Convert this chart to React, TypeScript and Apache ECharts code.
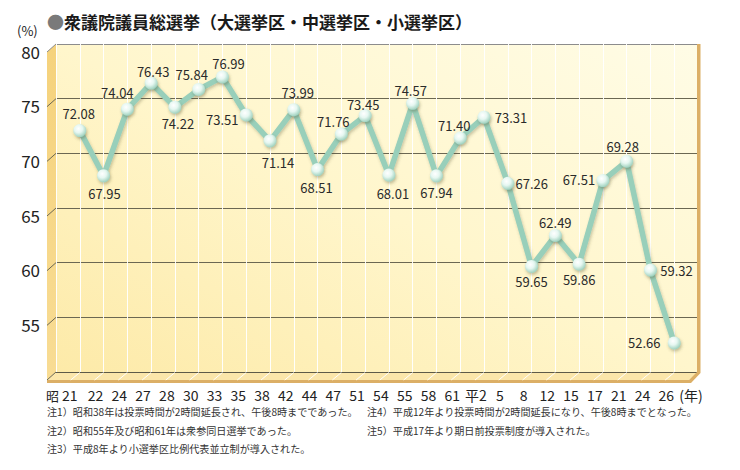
import React, { useEffect, useRef } from 'react';
import * as echarts from 'echarts';

const years = ['昭21', '22', '24', '27', '28', '30', '33', '35', '38', '42', '44', '47', '51', '54', '55', '58', '61', '平2', '5', '8', '12', '15', '17', '21', '24', '26'];
const turnout = [72.08, 67.95, 74.04, 76.43, 74.22, 75.84, 76.99, 73.51, 71.14, 73.99, 68.51, 71.76, 73.45, 68.01, 74.57, 67.94, 71.40, 73.31, 67.26, 59.65, 62.49, 59.86, 67.51, 69.28, 59.32, 52.66];
const yTicks = [50, 55, 60, 65, 70, 75, 80];
const titleText = '衆議院議員総選挙（大選挙区・中選挙区・小選挙区）';
const notesLeft = [
  '注1）昭和38年は投票時間が2時間延長され、午後8時までであった。',
  '注2）昭和55年及び昭和61年は衆参同日選挙であった。',
  '注3）平成8年より小選挙区比例代表並立制が導入された。',
];
const notesRight = [
  '注4）平成12年より投票時間が2時間延長になり、午後8時までとなった。',
  '注5）平成17年より期日前投票制度が導入された。',
];

// label offsets (styling) relative to each point
const labelOffsets: [number, number][] = [
  [-1, -17], [1, 18], [-10, -17], [2, -12], [3, 16], [-7, -15], [6, -13], [-24, 5], [8, 22], [4, -17],
  [-1, 18], [-8, -13], [-2, -11], [4, 18], [-2, -13], [0, 17], [-6, -13], [27, 0], [24, 0], [0, 15],
  [0, -13], [0, 15], [-24, -1], [-4, -15], [26, 0], [-30, 0],
];

const FONT = '"Noto Sans CJK JP", "Noto Sans", sans-serif';

export default function App() {
  const ref = useRef<HTMLDivElement>(null);
  useEffect(() => {
    document.body.style.margin = '0';
    const chart = echarts.init(ref.current!, null, { renderer: 'svg' });
    const cats = ['', ...years, ''];
    const data: any[] = ['-', ...turnout.map((v, i) => ({ value: v, label: { offset: labelOffsets[i] } })), '-'];

    const option: any = {
      animation: false,
      title: {
        text: '{d|●}' + titleText,
        left: 42,
        top: 8,
        textStyle: {
          fontFamily: FONT, fontSize: 17, fontWeight: 'bold', color: '#1a1a1a',
          rich: { d: { fontFamily: FONT, fontSize: 17, color: '#7a7a7a' } },
        },
      },
      grid: {
        left: 56, right: 42, top: 44, bottom: 98, show: true, borderWidth: 0,
        backgroundColor: new echarts.graphic.LinearGradient(1, 0, 0, 1, [
          { offset: 0, color: '#fffce6' },
          { offset: 0.5, color: '#fff6cc' },
          { offset: 1, color: '#fdeaa8' },
        ]),
      },
      xAxis: {
        type: 'category',
        data: cats,
        boundaryGap: false,
        axisLine: { show: false },
        axisTick: { show: false },
        splitLine: { show: true, lineStyle: { color: 'rgba(255,255,255,0.95)', width: 1 } },
        axisLabel: {
          interval: 0,
          margin: 16,
          color: '#222',
          fontFamily: FONT,
          fontSize: 14,
          formatter: (v: string) => {
            if (!v) return '';
            if (v.startsWith('昭')) return '{k|昭}{n2|' + v.slice(1) + '}{p| }';
            return '{n|' + v + '}';
          },
          rich: {
            n: { fontFamily: FONT, fontSize: 14, color: '#222', padding: [0, 16, 0, 0] },
            n2: { fontFamily: FONT, fontSize: 14, color: '#222' },
            k: { fontFamily: FONT, fontSize: 13, color: '#222', padding: [0, 3, 0, 0] },
            p: { fontFamily: FONT, fontSize: 14, width: 36 },
          },
        },
      },
      yAxis: {
        type: 'value',
        min: 50,
        max: 80,
        interval: 5,
        axisLine: { show: false },
        axisTick: { show: false },
        splitLine: {
          show: true,
          lineStyle: { color: ['#5e5a48', '#6b6752', '#6b6752', '#6b6752', '#6b6752', '#6b6752', '#8c8c8c'], width: 1 },
        },
        axisLabel: {
          margin: 16,
          color: '#222',
          fontFamily: FONT,
          fontSize: 17,
          verticalAlign: 'top',
          lineHeight: 14,
          formatter: (v: number) => (v === 50 ? '' : String(v)),
        },
      },
      series: [
        {
          type: 'line',
          data,
          z: 5,
          symbol: 'circle',
          symbolSize: 13,
          lineStyle: {
            color: '#98cfba', width: 5.5,
            shadowColor: 'rgba(80,80,40,0.3)', shadowBlur: 3, shadowOffsetX: 1, shadowOffsetY: 2,
          },
          itemStyle: {
            color: new echarts.graphic.RadialGradient(0.4, 0.35, 0.7, [
              { offset: 0, color: '#ffffff' },
              { offset: 0.45, color: '#e6f7f1' },
              { offset: 1, color: '#96cdb8' },
            ]),
            borderWidth: 0,
            shadowColor: 'rgba(80,80,40,0.35)', shadowBlur: 3, shadowOffsetX: 1, shadowOffsetY: 2,
          },
          label: {
            show: true,
            position: 'inside',
            color: '#2a2a2a',
            fontFamily: FONT,
            fontSize: 13,
            formatter: (p: any) => Number(p.value).toFixed(2),
          },
        },
      ],
    };
    chart.setOption(option);

    const px = (i: number, v: number) => chart.convertToPixel({ gridIndex: 0 }, [i, v]) as number[];
    const xL = px(0, 80)[0];
    const xR = px(cats.length - 1, 80)[0];
    const yTop = px(0, 80)[1];
    const yBot = px(0, 50)[1];
    const dx = 9, dy = 8;
    const g: any[] = [];
    // left wall
    g.push({
      type: 'polygon', z: -1,
      shape: { points: [[xL - dx, yTop + dy], [xL, yTop], [xL, yBot], [xL - dx, yBot + dy]] },
      style: { fill: new echarts.graphic.LinearGradient(0, 0, 0, 1, [{ offset: 0, color: '#f5d27c' }, { offset: 1, color: '#f8dc94' }]) },
    });
    // floor
    g.push({
      type: 'polygon', z: -1,
      shape: { points: [[xL, yBot], [xR, yBot], [xR - dx, yBot + dy], [xL - dx, yBot + dy]] },
      style: { fill: '#fbe6aa' },
    });
    // right edge and floor front edge
    g.push({
      type: 'polygon', z: 1,
      shape: {
        points: [[xR - 1, yTop], [xR + 2.5, yTop], [xR + 2.5, yBot + 1], [xR - dx + 2, yBot + dy + 3], [xL - dx, yBot + dy + 3],
          [xL - dx, yBot + dy], [xR - dx, yBot + dy], [xR - 1, yBot]],
      },
      style: { fill: '#dcaf66' },
    });
    // wall diagonals at each gridline
    yTicks.forEach((t) => {
      const y = px(0, t)[1];
      g.push({
        type: 'line', z: 2,
        shape: { x1: xL, y1: y, x2: xL - dx, y2: y + dy },
        style: { stroke: t === 80 ? '#8c8c8c' : '#6b6752', lineWidth: 1 },
      });
    });
    // floor diagonals
    for (let i = 1; i < cats.length - 1; i++) {
      const x = px(i, 50)[0];
      g.push({
        type: 'line', z: 2,
        shape: { x1: x, y1: yBot + 0.5, x2: x - dx, y2: yBot + dy },
        style: { stroke: 'rgba(255,255,255,0.95)', lineWidth: 1 },
      });
    }
    // unit labels
    g.push({
      type: 'text', z: 3,
      style: { x: 17, y: 30, text: '(%)', font: '13px ' + FONT, fill: '#222', verticalAlign: 'middle' },
    });
    const lastX = px(cats.length - 2, 50)[0];
    g.push({
      type: 'text', z: 3,
      style: { x: lastX + 5, y: yBot + 23, text: '(年)', font: '14px ' + FONT, fill: '#222', verticalAlign: 'middle' },
    });
    const noteYs = [411, 430, 448];
    notesLeft.forEach((t, i) => {
      g.push({ type: 'text', z: 3, style: { x: 47, y: noteYs[i], text: t, font: '10.1px ' + FONT, fill: '#333', verticalAlign: 'middle' } });
    });
    notesRight.forEach((t, i) => {
      g.push({ type: 'text', z: 3, style: { x: 367, y: noteYs[i], text: t, font: '10.1px ' + FONT, fill: '#333', verticalAlign: 'middle' } });
    });
    chart.setOption({ graphic: g });

    return () => chart.dispose();
  }, []);
  return <div ref={ref} style={{ width: 740, height: 470 }} />;
}
